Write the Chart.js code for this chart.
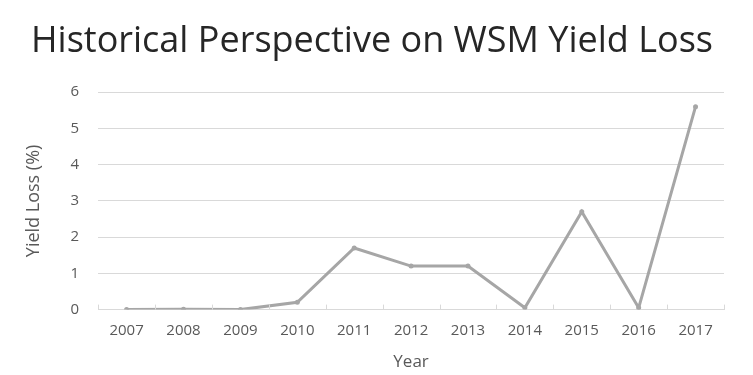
<!DOCTYPE html>
<html>
<head>
<meta charset="utf-8">
<script src="https://cdn.jsdelivr.net/npm/chart.js@4/dist/chart.umd.min.js"></script>
<style>
  html, body { margin: 0; padding: 0; background: #fff; }
  #wrap { width: 753px; height: 375px; }
</style>
</head>
<body>
<div id="wrap"><canvas id="lossChart"></canvas></div>
<script>
const years = ['2007','2008','2009','2010','2011','2012','2013','2014','2015','2016','2017'];
const yieldLoss = [0, 0.01, 0, 0.2, 1.7, 1.2, 1.2, 0.05, 2.7, 0.05, 5.6];
const yTicks = [0, 1, 2, 3, 4, 5, 6];

// little tick marks between categories, pointing up into the plot like excel
const innerTicks = {
  id: 'innerTicks',
  afterDraw(chart) {
    const x = chart.scales.x;
    const c = chart.ctx;
    const base = chart.chartArea.bottom;
    c.save();
    c.strokeStyle = '#d9d9d9';
    c.lineWidth = 1;
    for (let i = 0; i <= years.length; i++) {
      const px = Math.round(x.getPixelForValue(i - 0.5)) + 0.5;
      c.beginPath();
      c.moveTo(px, base);
      c.lineTo(px, base - 5);
      c.stroke();
    }
    c.restore();
  }
};

const ctx = document.getElementById('lossChart');
const lossChart = new Chart(ctx, {
  type: 'line',
  data: {
    labels: years,
    datasets: [{
      label: 'Yield Loss',
      data: yieldLoss,
      borderColor: '#a6a6a6',
      backgroundColor: '#a6a6a6',
      borderWidth: 3,
      pointRadius: 2.5,
      pointBackgroundColor: '#a6a6a6',
      pointBorderWidth: 0,
      tension: 0
    }]
  },
  options: {
    responsive: true,
    maintainAspectRatio: false,
    animation: false,
    layout: { padding: { left: 20, right: 29, top: 4, bottom: 0 } },
    plugins: {
      legend: { display: false },
      tooltip: { enabled: false },
      title: {
        display: true,
        text: 'Historical Perspective on WSM Yield Loss',
        color: '#262626',
        font: { family: 'Open Sans', size: 36, weight: 'normal' },
        padding: { top: 16, bottom: 29 }
      }
    },
    scales: {
      x: {
        offset: true,
        grid: { display: false, drawTicks: false },
        border: { display: true, color: '#d9d9d9' },
        ticks: { color: '#595959', font: { family: 'Open Sans', size: 15 }, padding: 12 },
        title: { display: true, text: 'Year', color: '#595959', font: { family: 'Open Sans', size: 17 }, padding: { top: 0, bottom: 3 } }
      },
      y: {
        min: 0,
        max: 6,
        afterBuildTicks(scale) { scale.ticks = yTicks.map(v => ({ value: v })); },
        grid: { color: '#d9d9d9', drawTicks: false },
        border: { display: false },
        ticks: { color: '#595959', font: { family: 'Open Sans', size: 15 }, padding: 19 },
        title: { display: true, text: 'Yield Loss (%)', color: '#595959', font: { family: 'Open Sans', size: 18 }, padding: { top: 3, bottom: 7 } }
      }
    }
  },
  plugins: [innerTicks]
});
</script>
</body>
</html>
